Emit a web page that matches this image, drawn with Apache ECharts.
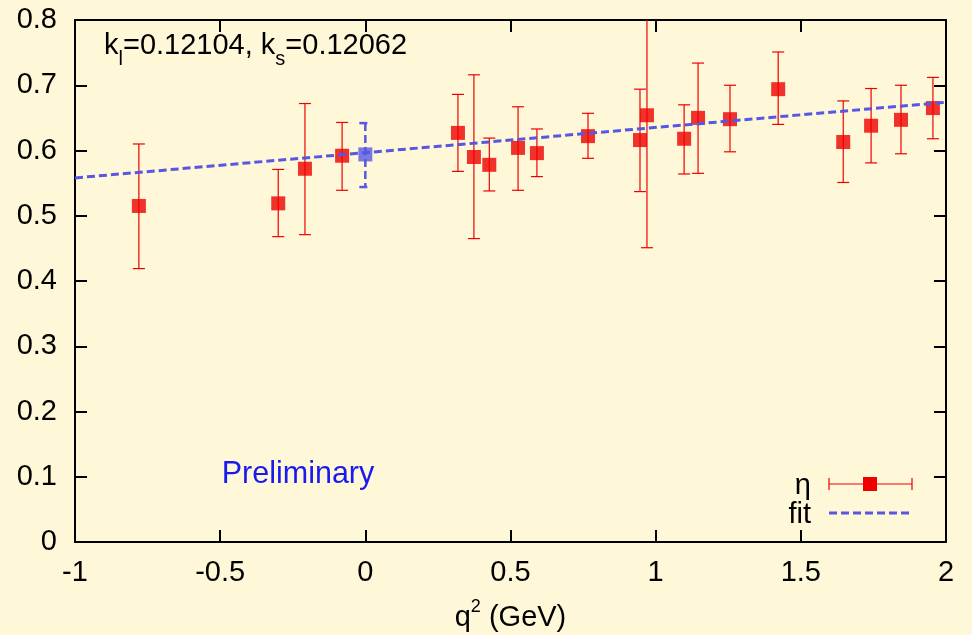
<!DOCTYPE html>
<html>
<head>
<meta charset="utf-8">
<script src="https://cdn.jsdelivr.net/npm/echarts@6/dist/echarts.min.js"></script>
<style>
  html, body { margin: 0; padding: 0; background: #fef8d8; }
  #chart { width: 972px; height: 635px; }
</style>
</head>
<body>
<div id="chart"></div>
<script>
  // eta form factor points
  const qsq = [-0.78, -0.30, -0.208, -0.08, 0.319, 0.374, 0.427, 0.526, 0.591, 0.767,
               0.946, 0.970, 1.098, 1.146, 1.256, 1.422, 1.646, 1.742, 1.845, 1.955];
  const eta = [0.515, 0.519, 0.572, 0.592, 0.627, 0.590, 0.578, 0.604, 0.596, 0.622,
               0.616, 0.654, 0.618, 0.650, 0.648, 0.694, 0.613, 0.638, 0.647, 0.665];
  const etaHi = [0.610, 0.571, 0.672, 0.643, 0.686, 0.716, 0.619, 0.667, 0.633, 0.657,
                 0.694, 0.857, 0.670, 0.734, 0.700, 0.751, 0.676, 0.695, 0.700, 0.712];
  const etaLo = [0.419, 0.468, 0.471, 0.539, 0.568, 0.465, 0.538, 0.539, 0.560, 0.588,
                 0.537, 0.451, 0.564, 0.565, 0.598, 0.640, 0.551, 0.581, 0.595, 0.618];

  // fitted value at q^2 = 0
  const zeroX = [0];
  const zeroY = [0.594];
  const zeroLo = [0.544];
  const zeroHi = [0.642];

  // fit line
  const fitX = [-1, 2];
  const fitY = [0.558, 0.674];

  const RED = '#ee0000';
  const BLUE = '#5757e3';
  const FONT = '"Liberation Sans", Arial, sans-serif';
  const FS = 29;

  function errBars(style) {
    return function (params, api) {
      const x = api.value(0);
      const top = api.coord([x, api.value(2)]);
      const bot = api.coord([x, api.value(1)]);
      const w = 6;
      return {
        type: 'group',
        children: [
          { type: 'line', shape: { x1: top[0], y1: top[1], x2: bot[0], y2: bot[1] }, style: style },
          { type: 'line', shape: { x1: top[0] - w, y1: top[1], x2: top[0] + w, y2: top[1] }, style: style },
          { type: 'line', shape: { x1: bot[0] - w, y1: bot[1], x2: bot[0] + w, y2: bot[1] }, style: style }
        ]
      };
    };
  }

  const axisCommon = {
    type: 'value',
    axisLine: { show: true, onZero: false, lineStyle: { color: '#000', width: 2 } },
    axisTick: { show: true, inside: true, length: 12, lineStyle: { color: '#000', width: 2 } },
    splitLine: { show: false }
  };

  const chart = echarts.init(document.getElementById('chart'));
  chart.setOption({
    backgroundColor: '#fef8d8',
    animation: false,
    grid: { left: 75, right: 26, top: 20, bottom: 93, outerBoundsMode: 'none', containLabel: false },
    xAxis: [
      Object.assign({}, axisCommon, {
        min: -1, max: 2, interval: 0.5, position: 'bottom',
        axisLabel: { color: '#000', fontSize: FS, fontFamily: FONT, margin: 16 },
        name: '{m|q}{sup|2}{m| (GeV)}',
        nameLocation: 'middle',
        nameGap: 56,
        nameTextStyle: {
          color: '#000', fontSize: FS, fontFamily: FONT,
          rich: {
            m: { fontSize: FS, fontFamily: FONT, color: '#000', lineHeight: 34, verticalAlign: 'bottom' },
            sup: { fontSize: 18, fontFamily: FONT, color: '#000', lineHeight: 17, verticalAlign: 'top' }
          }
        }
      }),
      Object.assign({}, axisCommon, {
        min: -1, max: 2, interval: 0.5, position: 'top',
        axisLabel: { show: false }
      })
    ],
    yAxis: [
      Object.assign({}, axisCommon, {
        min: 0, max: 0.8, interval: 0.1, position: 'left',
        axisLabel: { color: '#000', fontSize: FS, fontFamily: FONT, margin: 18 }
      }),
      Object.assign({}, axisCommon, {
        min: 0, max: 0.8, interval: 0.1, position: 'right',
        axisLabel: { show: false }
      })
    ],
    graphic: [
      {
        type: 'text', left: 104, top: 31, z: 100,
        style: {
          text: '{m|k}{sub|l}{m|=0.12104, k}{sub|s}{m|=0.12062}',
          font: FS + 'px ' + FONT, fill: '#000',
          rich: {
            m: { fontSize: FS, fontFamily: FONT, fill: '#000', lineHeight: 38, verticalAlign: 'top' },
            sub: { fontSize: 20, fontFamily: FONT, fill: '#000', lineHeight: 20, verticalAlign: 'bottom' }
          }
        }
      },
      {
        type: 'text', x: 298, y: 475, z: 100,
        style: { text: 'Preliminary', font: '30.5px ' + FONT, fill: '#1a1aee', align: 'center', verticalAlign: 'middle' }
      },
      // key
      {
        type: 'text', x: 811, y: 486, z: 100,
        style: { text: 'η', font: FS + 'px ' + FONT, fill: '#000', align: 'right', verticalAlign: 'middle' }
      },
      {
        type: 'text', x: 811, y: 515, z: 100,
        style: { text: 'f\u200cit', font: FS + 'px ' + FONT, fill: '#000', align: 'right', verticalAlign: 'middle' }
      },
      { type: 'line', z: 100, shape: { x1: 829, y1: 484, x2: 912, y2: 484 }, style: { stroke: RED, lineWidth: 1.2 } },
      { type: 'line', z: 100, shape: { x1: 829, y1: 478, x2: 829, y2: 490 }, style: { stroke: RED, lineWidth: 1.2 } },
      { type: 'line', z: 100, shape: { x1: 912, y1: 478, x2: 912, y2: 490 }, style: { stroke: RED, lineWidth: 1.2 } },
      { type: 'rect', z: 100, shape: { x: 863, y: 477, width: 14, height: 14 }, style: { fill: RED } },
      { type: 'line', z: 100, shape: { x1: 829, y1: 513, x2: 912, y2: 513 }, style: { stroke: BLUE, lineWidth: 3, lineDash: [8, 4] } }
    ],
    series: [
      {
        type: 'custom',
        name: 'eta err',
        clip: true,
        z: 2,
        renderItem: errBars({ stroke: RED, lineWidth: 1.2 }),
        encode: { x: 0, y: [1, 2] },
        data: qsq.map((x, i) => [x, etaLo[i], etaHi[i]])
      },
      {
        type: 'scatter',
        name: 'η',
        z: 3,
        symbol: 'rect',
        symbolSize: 14,
        itemStyle: { color: RED },
        data: qsq.map((x, i) => [x, eta[i]])
      },
      {
        type: 'line',
        name: 'fit',
        z: 4,
        showSymbol: false,
        lineStyle: { color: BLUE, width: 3, type: [8, 4] },
        data: fitX.map((x, i) => [x, fitY[i]])
      },
      {
        type: 'custom',
        name: 'zero err',
        clip: true,
        z: 5,
        renderItem: errBars({ stroke: BLUE, lineWidth: 2.5, lineDash: [8, 4] }),
        encode: { x: 0, y: [1, 2] },
        data: zeroX.map((x, i) => [x, zeroLo[i], zeroHi[i]])
      },
      {
        type: 'scatter',
        name: 'zero',
        z: 6,
        symbol: 'rect',
        symbolSize: 14,
        itemStyle: { color: BLUE },
        data: zeroX.map((x, i) => [x, zeroY[i]])
      }
    ]
  });
</script>
</body>
</html>
